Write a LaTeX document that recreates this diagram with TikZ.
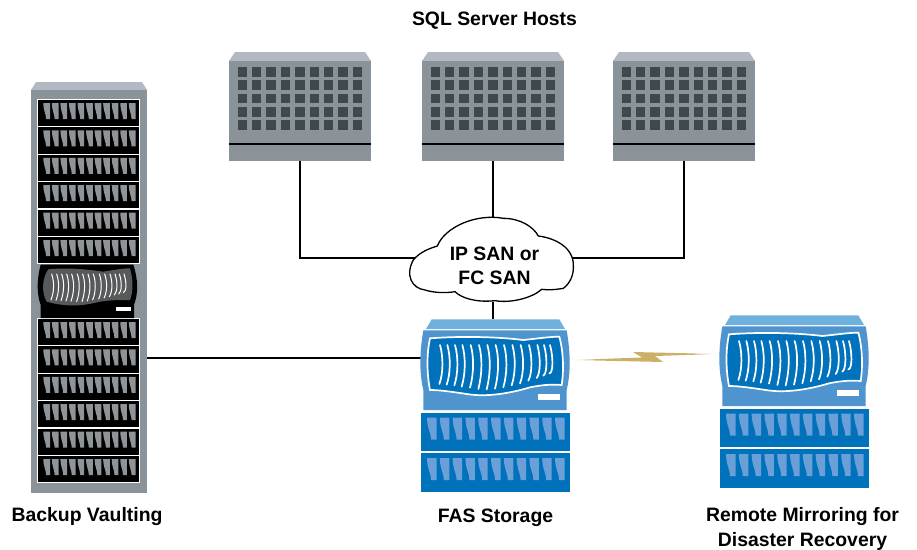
\documentclass[tikz,border=0pt]{standalone}
\usepackage{fontspec}
\setmainfont{Liberation Sans}
\definecolor{srvbody}{HTML}{8A9399}
\definecolor{srvcap}{HTML}{B2B9C2}
\definecolor{srvsq}{HTML}{3F484A}
\definecolor{slotgrey}{HTML}{8F9499}
\definecolor{blobgrey}{HTML}{58595B}
\definecolor{fascap}{HTML}{6EB1DC}
\definecolor{fasbody}{HTML}{4F94CF}
\definecolor{fasblue}{HTML}{0072BC}
\definecolor{fasslot}{HTML}{6B9FD8}
\definecolor{boltgold}{HTML}{CDB068}
\colorlet{boltpale}{boltgold!20!white}
\pgfdeclarehorizontalshading{boltshade}{100bp}{color(0bp)=(boltpale); color(25bp)=(boltpale); color(34bp)=(boltgold); color(66bp)=(boltgold); color(75bp)=(boltpale); color(100bp)=(boltpale)}
\tikzset{
  device/.style={draw=none,fill=none,inner sep=0pt,outer sep=0pt},
  label/.style={inner sep=0pt,font=\fontsize{19.4}{24.2}\selectfont\bfseries,align=center,text=black},
  wire/.style={draw=black,line width=2pt},
  arcline/.style={draw=white,line width=1.7pt,line cap=round},
}
% x y pitch w h colour
\newcommand{\slotrow}[6]{%
  \foreach \i in {0,...,10}{%
    \fill[#6,shift={({#1+\i*#3},#2)},x=#4pt,y=-#5pt]
      (0,0) -- (1,0) -- (1,1) -- (0.42,1) .. controls (0.38,0.62) and (0.04,0.55) .. (0,0) -- cycle;
  }%
}
\newcommand{\serverbox}[1]{%
  \begin{scope}[shift={(#1,0)}]
    \fill[srvcap] (6,52) -- (136,52) -- (142,61) -- (0,61) -- cycle;
    \fill[srvbody] (0,61) rectangle (142,161);
    \fill[black] (0,143) rectangle (142,145);
    \foreach \r in {0,...,4}{\foreach \c in {0,...,8}{%
      \fill[srvsq] ({8.5+\c*14.4},{67.1+\r*13.3}) rectangle +(9.5,9.5);
    }}
  \end{scope}%
}
\newcommand{\storagebox}[2]{%
  \begin{scope}[shift={(#1,#2)},x=0.33333pt,y=-0.33333pt]
    \fill[fascap] (65,28) -- (448,28) -- (465,57) -- (48,57) -- cycle;
    \fill[fasbody] (40,61) -- (470,61) .. controls (482,130) and (482,190) .. (470,240) -- (470,300) -- (40,300) -- (40,240) .. controls (28,190) and (28,130) .. (40,61) -- cycle;
    \filldraw[fill=fasblue,draw=white,line width=1.7pt]
      (60,85) .. controls (150,78) and (260,80) .. (340,90)
      .. controls (380,86) and (420,80) .. (448,80)
      .. controls (460,125) and (462,180) .. (455,225)
      .. controls (420,222) and (390,226) .. (360,232)
      .. controls (300,250) and (230,262) .. (170,252)
      .. controls (130,246) and (90,240) .. (60,240)
      .. controls (50,190) and (50,130) .. (60,85) -- cycle;
    \foreach \ax/\ab in {90/222,112/224,135/226,157/230,182/233,207/237,232/238,257/236,282/232,307/226,332/220,357/212,382/204,402/197,420/190}{%
      \draw[arcline] (\ax,105) .. controls ({\ax+10},140) and ({\ax+10},190) .. ({\ax-2},\ab);
    }
    \fill[white] (385,252) rectangle (450,270);
    \fill[fasblue] (32,308) rectangle (480,422);
    \fill[fasblue] (32,430) rectangle (480,545);
  \end{scope}%
  \slotrow{#1+17}{#2+107.5}{12.8}{9.5}{22}{fasslot}%
  \slotrow{#1+17}{#2+148}{12.8}{9.5}{22}{fasslot}%
}
\begin{document}
\begin{tikzpicture}[x=1pt,y=-1pt]
\useasboundingbox (0,0) rectangle (917,549);
% invisible anchors for the devices
\node[device,minimum width=116pt,minimum height=411pt] (rack) at (89,287.5) {};
\node[device,minimum width=142pt,minimum height=109pt] (host1) at (300,106.5) {};
\node[device,minimum width=142pt,minimum height=109pt] (host2) at (493,106.5) {};
\node[device,minimum width=142pt,minimum height=109pt] (host3) at (684,106.5) {};
\node[device,minimum width=149pt,minimum height=78pt] (fas) at (495.5,358) {};
\node[device,minimum width=149pt,minimum height=78pt] (remote) at (794.5,354) {};
\node[device,minimum width=166pt,minimum height=88pt] (cloud) at (493,258) {};
% connectors
\draw[wire] (host1.south) |- (cloud.center);
\draw[wire] (host2.south) -- (cloud.center);
\draw[wire] (host3.south) |- (cloud.center);
\draw[wire] (cloud.south) -- (cloud.south |- fas.north);
\draw[wire] (fas.west -| rack.east) -- (fas.west);
% rack
\fill[srvcap] (36,82) -- (142,82) -- (147,90) -- (31,90) -- cycle;
\fill[srvbody] (31,90) rectangle (147,493);
\foreach \yy in {99.3,126.7,154.1,181.5,208.9,236.3,318.3,345.7,373.1,400.5,427.9,455.3}{%
  \filldraw[fill=black,draw=white,line width=0.8pt] (37.8,\yy) rectangle (139.2,{\yy+27.2});
  \slotrow{43.3}{\yy+3.7}{8.55}{6.7}{16}{slotgrey}
}
% rack controller
\begin{scope}[shift={(20,250)},x=0.33333pt,y=-0.33333pt]
  \fill[black] (62,44) -- (340,44) .. controls (355,90) and (355,130) .. (342,165) -- (342,204) -- (62,204) -- (62,165) .. controls (50,130) and (50,90) .. (62,44) -- cycle;
  \fill[blobgrey] (85,58) .. controls (140,52) and (200,58) .. (250,65)
    .. controls (280,60) and (310,55) .. (330,55)
    .. controls (340,90) and (340,125) .. (330,150)
    .. controls (300,150) and (270,150) .. (240,155)
    .. controls (190,168) and (140,172) .. (80,155)
    .. controls (65,130) and (65,85) .. (85,58) -- cycle;
  \foreach \ax/\ab in {95/150,110/151,125/152,140/153,155/154,172/155,188/155,204/153,220/150,238/147,254/144,270/140,285/135,298/132,312/128}{%
    \draw[draw=white,line width=1pt,line cap=round] (\ax,72) .. controls ({\ax+8},95) and ({\ax+8},125) .. ({\ax-2},\ab);
  }
  \fill[white] (288,171) rectangle (333,184);
\end{scope}
% hosts
\serverbox{229}
\serverbox{422}
\serverbox{613}
% storage
\storagebox{410}{310}
\storagebox{709}{306}
% lightning
\shade[shading=boltshade] (572,360) -- (642,357.5) -- (633,352) -- (718,354) -- (655,356) -- (663,362) -- cycle;
% cloud
\begin{scope}[shift={(400,210)},x=0.33333pt,y=-0.33333pt]
  \filldraw[fill=white,draw=black,line width=1.3pt]
    (75,240) .. controls (35,235) and (15,195) .. (40,150)
    .. controls (60,125) and (90,115) .. (112,108)
    .. controls (135,50) and (230,10) .. (310,25)
    .. controls (360,25) and (400,50) .. (415,78)
    .. controls (470,85) and (520,115) .. (520,165)
    .. controls (522,195) and (510,220) .. (490,235)
    .. controls (460,240) and (445,240) .. (425,238)
    .. controls (395,265) and (330,280) .. (285,272)
    .. controls (230,278) and (185,265) .. (165,245)
    .. controls (135,250) and (100,248) .. (75,240) -- cycle;
\end{scope}
% labels
\node[label] (cloudtext) at (494.5,266) {IP SAN or\\FC SAN};
\node[label] (sqlhosts) at (494.5,20.5) {SQL Server Hosts};
\node[label] (backup) at (87,516.5) {Backup Vaulting};
\node[label] (fastext) at (495.5,517.5) {FAS Storage};
\node[label] (mirror) at (802.5,529) {Remote Mirroring for\\Disaster Recovery};
\end{tikzpicture}
\end{document}
